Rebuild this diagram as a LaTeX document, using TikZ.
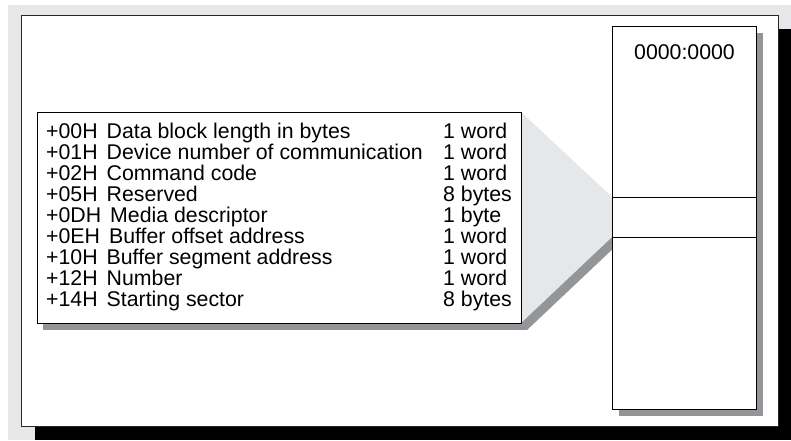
\documentclass[tikz,border=0pt]{standalone}
\usepackage{fontspec}
\setmainfont{Liberation Sans}
\usetikzlibrary{positioning}
\definecolor{paneback}{RGB}{230,231,232}
\definecolor{shadegray}{RGB}{147,149,152}
\tikzset{
  fieldtext/.style={inner sep=0pt, anchor=base west, font=\fontsize{21.3pt}{21pt}\selectfont},
  boxed/.style={draw, fill=white, line width=1pt, inner sep=0pt, anchor=north west}
}

\begin{document}
\begin{tikzpicture}[x=1pt, y=-1pt]
  \useasboundingbox (0,0) rectangle (791,440);
  % page background and frame with its shadow
  \fill[paneback] (8,5) rectangle (791,440);
  \fill[black] (35,29) rectangle (791,440);
  \draw[draw=black!85, fill=white, line width=1pt] (21,15) rectangle (778,426);
  % shadows of the funnel and the request block
  \fill[shadegray] (527,119) -- (618,204) -- (618,244) -- (527,330) -- cycle;
  \fill[shadegray] (43,119) rectangle (527,330);
  \fill[paneback] (521,112) -- (612,197) -- (612,237) -- (521,323) -- cycle;
  \node[boxed, minimum width=484pt, minimum height=211pt] (request) at (37,112) {};
  % memory column
  \fill[shadegray] (619,33) rectangle (763,416);
  \node[boxed, minimum width=144pt, minimum height=383pt] (memory) at (612,26) {};
  \draw[line width=1pt] (memory.west |- 0,197) -- (memory.east |- 0,197);
  \draw[line width=1pt] (memory.west |- 0,237) -- (memory.east |- 0,237);
  \node[fieldtext, anchor=north] (zeroaddr) [below=18.5pt of memory.north] {0000:0000};
  % request block fields
  \foreach \offs/\desc/\len [count=\i from 0] in {
      +00H/Data block length in bytes/1 word,
      +01H/Device number of communication/1 word,
      +02H/Command code/1 word,
      +05H/Reserved/8 bytes,
      +0DH/Media descriptor/1 byte,
      +0EH/Buffer offset address/1 word,
      +10H/Buffer segment address/1 word,
      +12H/Number/1 word,
      +14H/Starting sector/8 bytes} {
    \node[fieldtext] (field\i) at (46,138.5+21*\i) {\offs\hspace{9pt}\desc};
    \node[fieldtext] (size\i) at (443,138.5+21*\i) {\len};
  }
\end{tikzpicture}
\end{document}
